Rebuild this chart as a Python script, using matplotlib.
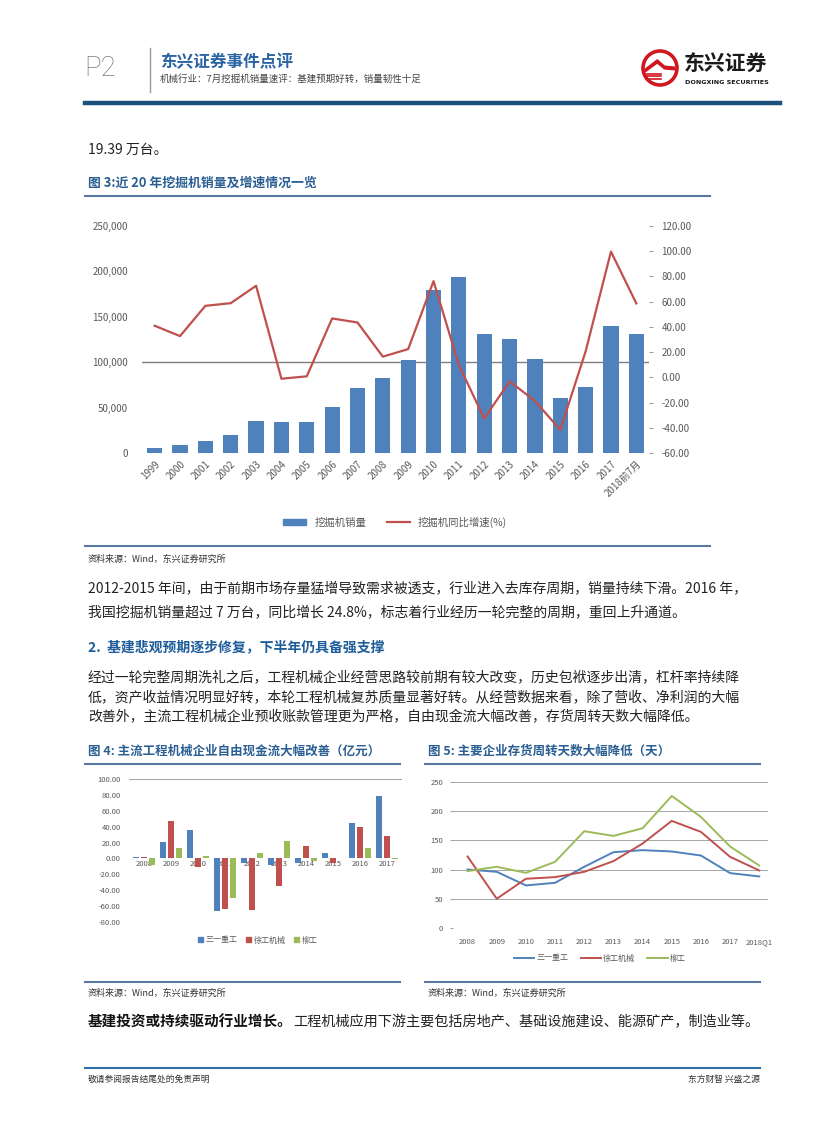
import matplotlib
matplotlib.use("Agg")
import matplotlib.pyplot as plt
import numpy as np
from matplotlib.lines import Line2D
from matplotlib.patches import Patch, Circle, Polygon
from matplotlib.ticker import FuncFormatter, MultipleLocator

plt.rcParams['font.family'] = ['Noto Sans CJK SC', 'DejaVu Sans']

# ---- data ----
years = ['1999', '2000', '2001', '2002', '2003', '2004', '2005', '2006', '2007', '2008',
         '2009', '2010', '2011', '2012', '2013', '2014', '2015', '2016', '2017', '2018前7月']
sales = [5900, 8400, 12800, 20200, 34800, 33700, 33700, 50200, 71800, 82800,
         101900, 179600, 194300, 131200, 125700, 103700, 60900, 73000, 140000, 131200]
growth = [40.9, 32.7, 56.7, 58.8, 72.6, -1.1, 0.8, 46.7, 43.5, 16.4,
          22.4, 76.3, 9.8, -32.7, -3.2, -18.7, -41.7, 20.6, 99.7, 58.6]

fcf_years = ['2008', '2009', '2010', '2011', '2012', '2013', '2014', '2015', '2016', '2017']
sany_fcf = [2.0, 20.4, 35.8, -66.7, -5.8, -8.3, -5.8, 6.7, 44.6, 78.3]
xcmg_fcf = [2.0, 47.0, -10.4, -63.3, -64.6, -34.2, 15.8, -5.8, 39.6, 27.9]
liugong_fcf = [-8.3, 13.3, 3.3, -49.6, 6.7, 22.0, -3.3, 0.0, 13.3, -1.2]

inv_years = ['2008', '2009', '2010', '2011', '2012', '2013', '2014', '2015', '2016', '2017', '2018Q1']
sany_days = [100.2, 96.2, 72.9, 77.4, 104.8, 129.8, 133.3, 131.0, 124.1, 94.0, 88.3]
xcmg_days = [122.4, 50.1, 84.3, 87.1, 96.2, 114.5, 144.6, 183.4, 164.6, 121.9, 98.5]
liugong_days = [97.4, 104.8, 94.5, 113.3, 165.7, 157.7, 170.8, 226.1, 190.2, 139.5, 107.0]

company_names = ['三一重工', '徐工机械', '柳工']

BLUE = '#4F81BD'
RED = '#C0504D'
GREEN = '#9BBB59'
TICK = '#595959'
TITLE_BLUE = '#2B5F93'
TEXT = '#222222'

W, H = 827, 1122
fig = plt.figure(figsize=(W / 100, H / 100), dpi=100, facecolor='white')


def box(x0, y0, x1, y1):
    return [x0 / W, 1 - y1 / H, (x1 - x0) / W, (y1 - y0) / H]


def tx(x, y, s, **kw):
    kw.setdefault('va', 'center')
    kw.setdefault('color', TEXT)
    return fig.text(x / W, 1 - y / H, s, **kw)


def hline(x0, x1, y, color, lw):
    fig.add_artist(Line2D([x0 / W, x1 / W], [1 - y / H, 1 - y / H], color=color, lw=lw))


# ---- header ----
tx(84, 68, 'P2', fontsize=20, color='#7A7A7A', family='Roboto', fontweight='light')
fig.add_artist(Line2D([150 / W, 150 / W], [1 - 48 / H, 1 - 92 / H], color='#9A9A9A', lw=1))
tx(160, 62, '东兴证券事件点评', fontsize=12, fontweight='bold', color='#2A64A3')
tx(160, 79, '机械行业：7月挖掘机销量速评：基建预期好转，销量韧性十足', fontsize=6.8, color='#444444')
hline(85, 780, 103, '#1B4F7E', 3.2)

# logo
lax = fig.add_axes(box(641, 49, 679, 87))
lax.set_xlim(-1.05, 1.05)
lax.set_ylim(-1.05, 1.05)
lax.set_aspect('equal')
lax.axis('off')
lax.add_patch(Circle((0, 0), 1.0, color='#D0161E'))
lax.add_patch(Circle((0, 0), 0.8, color='white'))
lax.add_patch(Polygon([[-0.8, -0.05], [-0.15, 0.45], [0.25, 0.1], [0.8, 0.05], [0.8, -0.1],
                       [0.25, -0.05], [-0.15, 0.28], [-0.8, -0.2]], color='#D0161E'))
for yy in [-0.32, -0.46, -0.6]:
    lax.plot([-0.7, 0.05], [yy, yy], color='#D0161E', lw=1.2)
tx(684, 63, '东兴证券', fontsize=15, fontweight='bold', color='#1A1A1A')
tx(685, 82, 'DONGXING SECURITIES', fontsize=4.6, fontweight='bold', color='#1A1A1A',
   family='DejaVu Sans')

# ---- text above chart 3 ----
tx(88, 150, '19.39 万台。', fontsize=10)
tx(88, 183, '图 3:近 20 年挖掘机销量及增速情况一览', fontsize=9.3, fontweight='bold', color=TITLE_BLUE)
hline(85, 710, 196, '#5878A0', 1.5)

# ---- chart 3 ----
ax = fig.add_axes(box(142, 226, 649, 453))
x = np.arange(len(years))
ax.bar(x, sales, width=0.6, color=BLUE, zorder=2)
ax.set_xlim(-0.5, len(years) - 0.5)
ax.set_ylim(0, 250000)
ax.yaxis.set_major_locator(MultipleLocator(50000))
ax.yaxis.set_major_formatter(FuncFormatter(lambda v, p: f'{int(v):,}'))
ax.axhline(100000, color='#7F7F7F', lw=1, zorder=1)
for s in ax.spines.values():
    s.set_visible(False)
ax.tick_params(axis='y', length=0, labelsize=7, labelcolor=TICK, pad=10)
ax.set_xticks(x)
ax.set_xticklabels(years, rotation=45, ha='right', rotation_mode='anchor')
ax.tick_params(axis='x', length=0, labelsize=7, labelcolor=TICK, pad=4)

ax2 = ax.twinx()
ax2.plot(x, growth, color=RED, lw=1.6, zorder=3)
ax2.set_ylim(-60, 120)
ax2.yaxis.set_major_locator(MultipleLocator(20))
ax2.yaxis.set_major_formatter(FuncFormatter(lambda v, p: f'{v:.2f}'))
for s in ax2.spines.values():
    s.set_visible(False)
ax2.tick_params(axis='y', length=3, color='#A0A0A0', labelsize=7, labelcolor=TICK, pad=6)

fig.legend([Patch(color=BLUE), Line2D([0], [0], color=RED, lw=1.6)],
           ['挖掘机销量', '挖掘机同比增速(%)'],
           loc='center', bbox_to_anchor=(395 / W, 1 - 522 / H), ncol=2, frameon=False,
           fontsize=7.5, handlelength=2.2, handleheight=0.6, columnspacing=2.0,
           labelcolor=TICK)

hline(85, 710, 546, '#5878A0', 1.5)
tx(88, 559, '资料来源：Wind，东兴证券研究所', fontsize=6.5, style='italic', color='#333333')

# ---- body text ----
tx(88, 588, '2012-2015 年间，由于前期市场存量猛增导致需求被透支，行业进入去库存周期，销量持续下滑。2016 年，',
   fontsize=10)
tx(88, 612, '我国挖掘机销量超过 7 万台，同比增长 24.8%，标志着行业经历一轮完整的周期，重回上升通道。',
   fontsize=10)
tx(88, 647, '2.  基建悲观预期逐步修复，下半年仍具备强支撑', fontsize=10, fontweight='bold', color='#1F5C9A')
tx(88, 677, '经过一轮完整周期洗礼之后，工程机械企业经营思路较前期有较大改变，历史包袱逐步出清，杠杆率持续降',
   fontsize=10)
tx(88, 697, '低，资产收益情况明显好转，本轮工程机械复苏质量显著好转。从经营数据来看，除了营收、净利润的大幅',
   fontsize=10)
tx(88, 717, '改善外，主流工程机械企业预收账款管理更为严格，自由现金流大幅改善，存货周转天数大幅降低。',
   fontsize=10)

# ---- chart 4 ----
tx(88, 751, '图 4: 主流工程机械企业自由现金流大幅改善（亿元）', fontsize=9, fontweight='bold', color=TITLE_BLUE)
hline(85, 400, 764, '#5878A0', 1.5)
a4 = fig.add_axes(box(129, 779, 402, 922))
xf = np.arange(len(fcf_years))
bw = 0.23
a4.bar(xf - 0.3, sany_fcf, width=bw, color=BLUE, zorder=3)
a4.bar(xf, xcmg_fcf, width=bw, color=RED, zorder=3)
a4.bar(xf + 0.3, liugong_fcf, width=bw, color=GREEN, zorder=3)
a4.set_xlim(-0.55, len(fcf_years) - 0.45)
a4.set_ylim(-80, 100)
a4.yaxis.set_major_locator(MultipleLocator(20))
a4.yaxis.set_major_formatter(FuncFormatter(lambda v, p: f'{v:.2f}'))
a4.axhline(100, color='#A6A6A6', lw=0.8, zorder=1)
for s in a4.spines.values():
    s.set_visible(False)
a4.tick_params(axis='y', length=0, labelsize=5.5, labelcolor=TICK, pad=6)
a4.set_xticks([])
for i, lab in enumerate(fcf_years):
    a4.text(i, -1.5, lab, ha='center', va='top', fontsize=5.5, color=TICK, zorder=2)
fig.legend([Patch(color=c) for c in (BLUE, RED, GREEN)], company_names,
           loc='center', bbox_to_anchor=(258 / W, 1 - 940 / H), ncol=3, frameon=False,
           fontsize=5.8, handlelength=0.6, handleheight=0.6, handletextpad=0.4,
           columnspacing=1.0, labelcolor=TICK)
hline(85, 400, 982, '#5878A0', 1.5)
tx(88, 993, '资料来源：Wind，东兴证券研究所', fontsize=6.5, style='italic', color='#333333')

# ---- chart 5 ----
tx(428, 751, '图 5: 主要企业存货周转天数大幅降低（天）', fontsize=9, fontweight='bold', color=TITLE_BLUE)
hline(425, 760, 764, '#5878A0', 1.5)
a5 = fig.add_axes(box(453, 782, 768, 928))
xi = np.arange(len(inv_years))
a5.plot(xi, sany_days, color=BLUE, lw=1.4, zorder=3)
a5.plot(xi, xcmg_days, color=RED, lw=1.4, zorder=3)
a5.plot(xi, liugong_days, color=GREEN, lw=1.4, zorder=3)
a5.set_xlim(-0.5, len(inv_years) - 0.7)
a5.set_ylim(0, 250)
a5.yaxis.set_major_locator(MultipleLocator(50))
a5.grid(axis='y', color='#A6A6A6', lw=0.7, zorder=1)
for s in a5.spines.values():
    s.set_visible(False)
a5.tick_params(axis='y', length=2, color='#A6A6A6', labelsize=5.5, labelcolor=TICK, pad=5)
a5.set_xticks(xi)
a5.set_xticklabels(inv_years)
a5.tick_params(axis='x', length=0, labelsize=5.5, labelcolor=TICK, pad=7)
fig.legend([Line2D([0], [0], color=c, lw=1.4) for c in (BLUE, RED, GREEN)], company_names,
           loc='center', bbox_to_anchor=(600 / W, 1 - 958 / H), ncol=3, frameon=False,
           fontsize=5.8, handlelength=2.5, handletextpad=0.3, columnspacing=1.5,
           labelcolor=TICK)
hline(425, 760, 982, '#5878A0', 1.5)
tx(428, 993, '资料来源：Wind，东兴证券研究所', fontsize=6.5, style='italic', color='#333333')

# ---- last paragraph ----
lead = tx(88, 1022, '基建投资或持续驱动行业增长。', fontsize=10.5, fontweight='bold', color='#111111')
fig.canvas.draw()
lead_end = lead.get_window_extent().x1
fig.text(lead_end / W, 1 - 1022 / H, '工程机械应用下游主要包括房地产、基础设施建设、能源矿产，制造业等。',
         fontsize=10.2, va='center', color=TEXT)

# ---- footer ----
hline(85, 760, 1068, '#2F6FA8', 1.5)
tx(88, 1079, '敬请参阅报告结尾处的免责声明', fontsize=6.3, color='#333333')
tx(760, 1079, '东方财智 兴盛之源', fontsize=6.3, color='#333333', ha='right')

fig.savefig('out.png', dpi=100, facecolor='white')
